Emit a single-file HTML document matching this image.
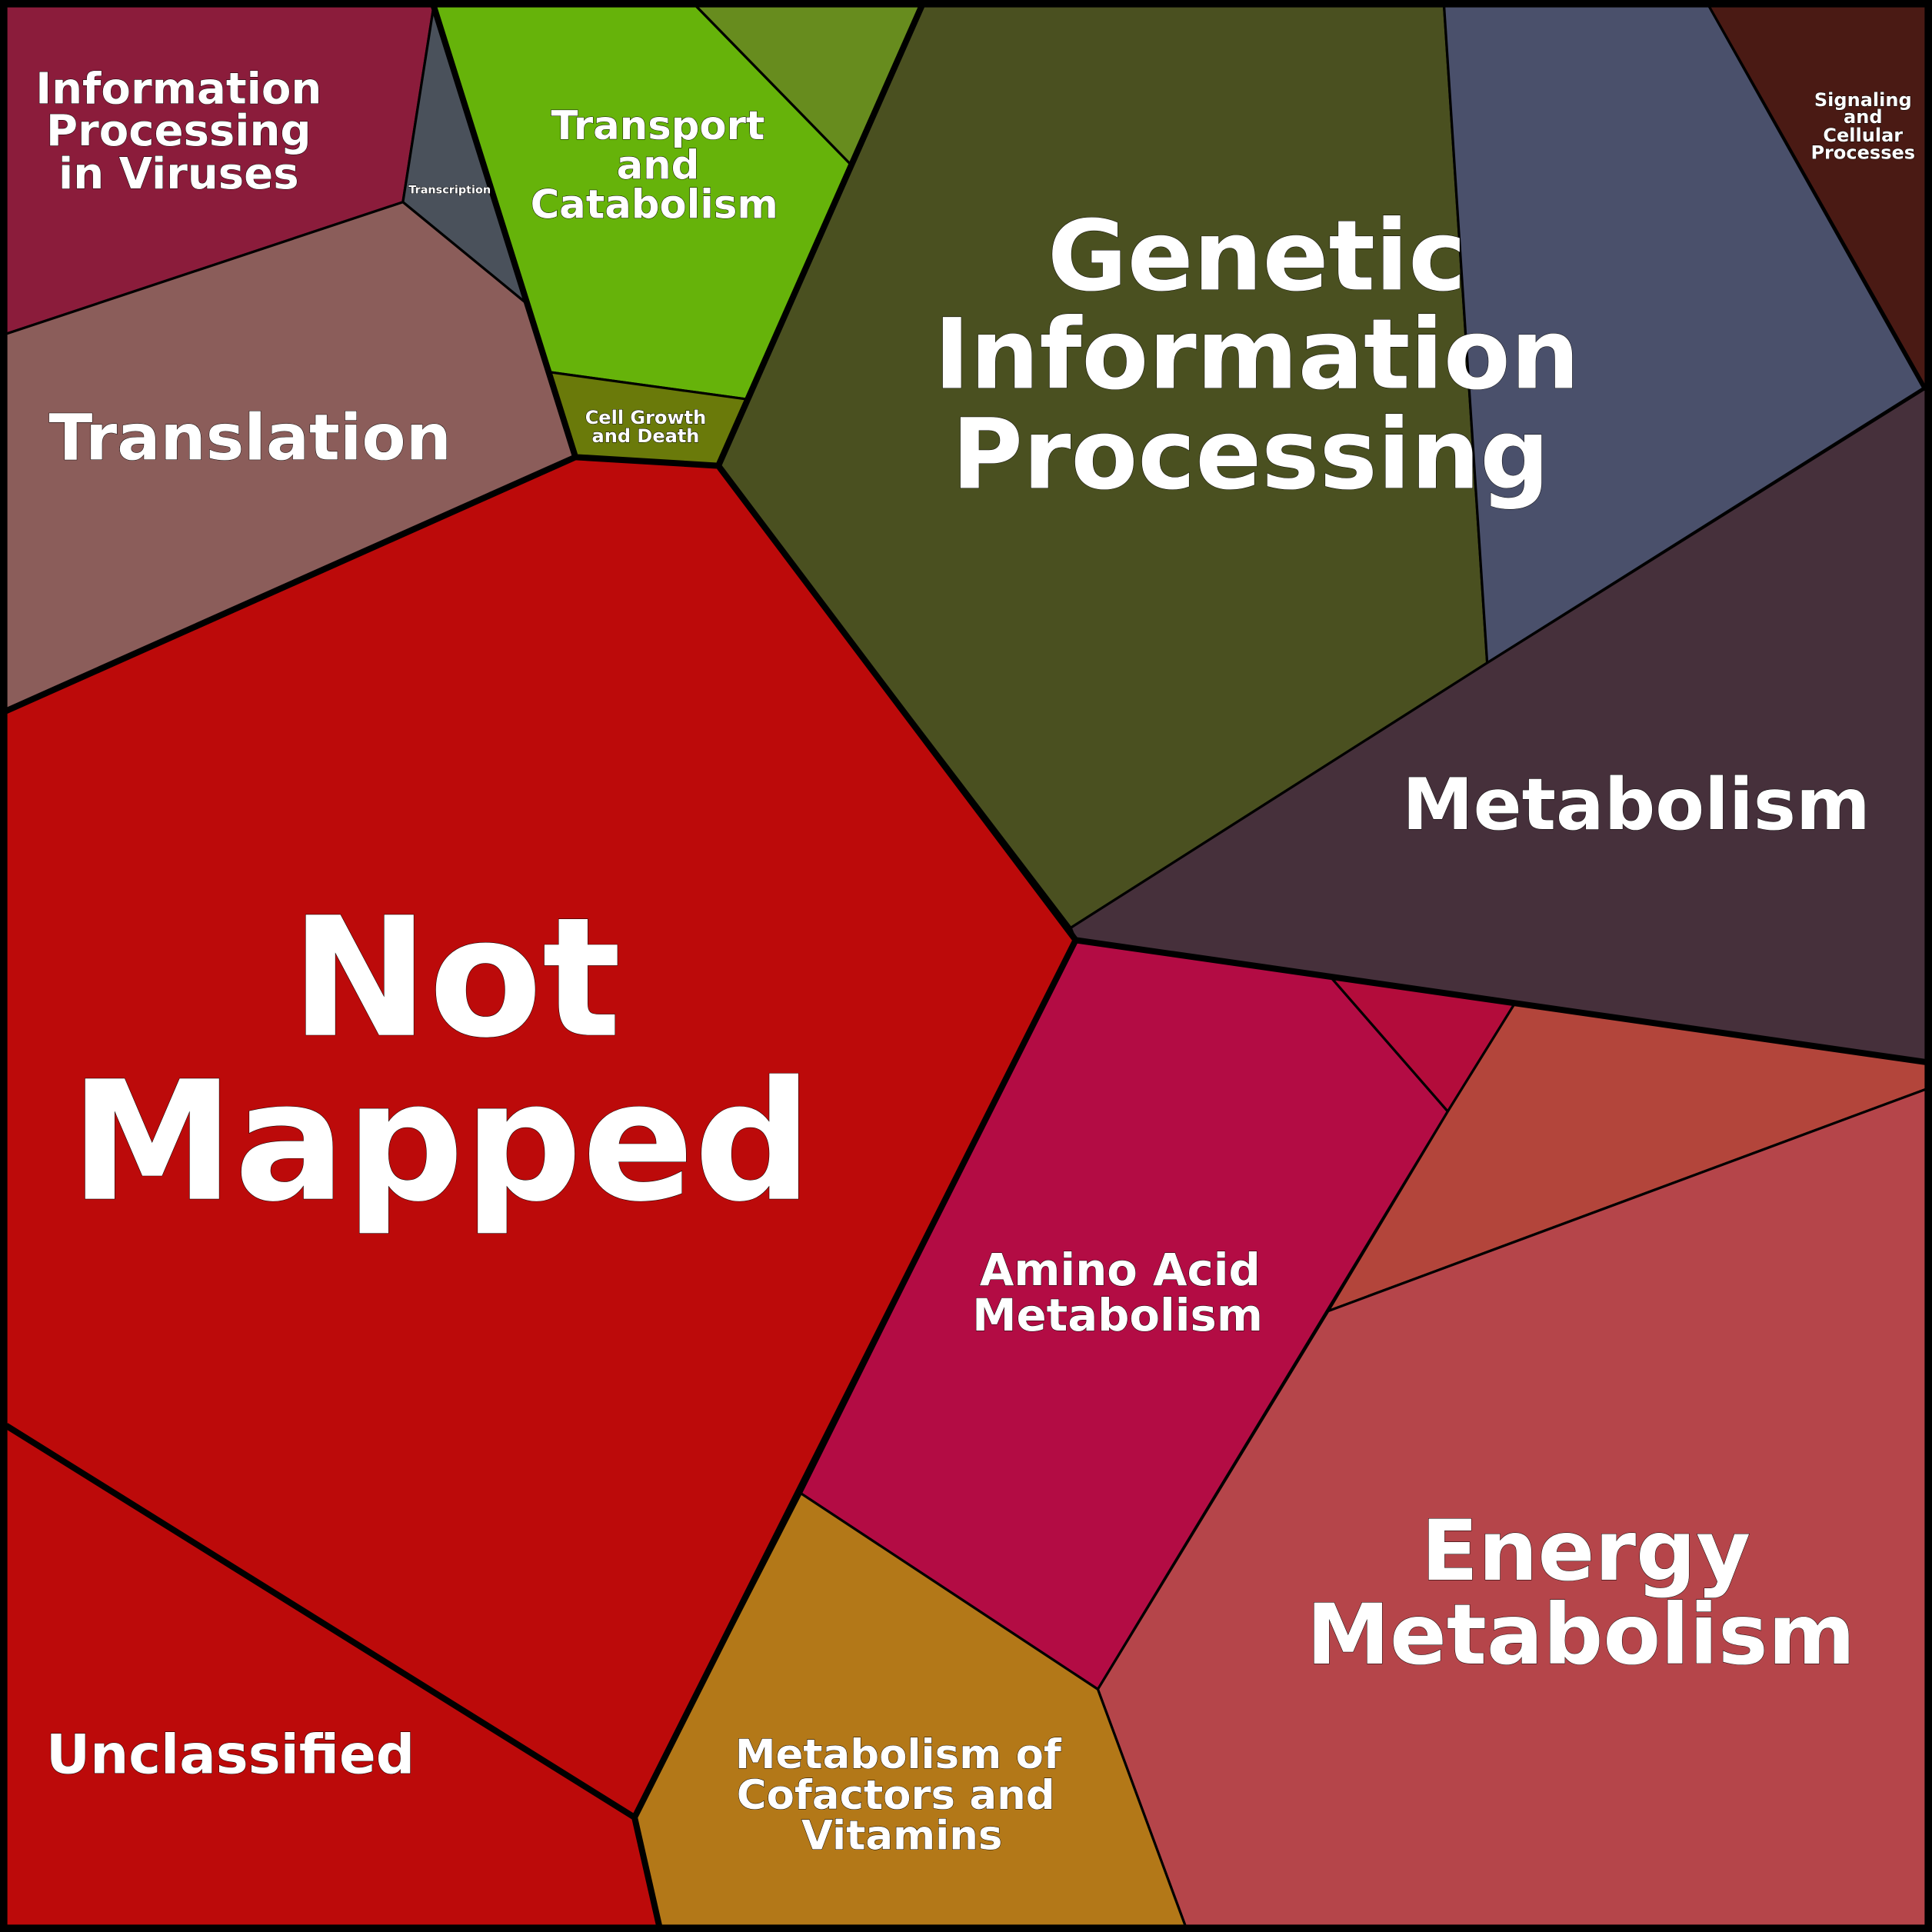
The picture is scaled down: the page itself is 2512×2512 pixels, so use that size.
<!DOCTYPE html>
<html><head><meta charset="utf-8"><style>
html,body{margin:0;padding:0;background:#000;}
svg{display:block;}
text{font-family:"DejaVu Sans","Liberation Sans",sans-serif;font-weight:bold;fill:#fff;text-anchor:middle;stroke:#000;stroke-width:0.6;paint-order:stroke;}
</style></head><body>
<svg width="2512" height="2512" viewBox="0 0 1568 1568" xmlns="http://www.w3.org/2000/svg">
<g stroke="#000" stroke-width="2" stroke-linejoin="round">
<polygon fill="#8b1c3b" points="5,5 352,5 327,164 5,271"/>
<polygon fill="#4a515b" points="352,5 427,246 327,164"/>
<polygon fill="#8b5d5a" points="5,271 327,164 427,246 467,371 5,577"/>
<polygon fill="#66b30a" points="352,5 565,5 690,133 606,324 446,302 427,246"/>
<polygon fill="#678c1e" points="565,5 748,5 690,133"/>
<polygon fill="#6a7a0a" points="446,302 606,324 583,378 467,371"/>
<polygon fill="#4a5020" points="748,5 1172,5 1207,538 869,753 583,378 606,324 690,133"/>
<polygon fill="#4a506b" points="1172,5 1387,5 1561,315 1207,538"/>
<polygon fill="#4a1a14" points="1387,5 1563,5 1563,315"/>
<polygon fill="#46303b" points="1207,538 1563,315 1563,862 873,763 869,753"/>
<polygon fill="#bc0a0a" points="5,577 467,371 583,378 873,763 650,1212 515,1475 5,1157"/>
<polygon fill="#bc0a0a" points="5,1157 515,1475 535,1563 5,1563"/>
<polygon fill="#b30c44" points="873,763 1080,793 1175,902 891,1371 650,1212"/>
<polygon fill="#b30c3b" points="1080,793 1229,815 1175,902"/>
<polygon fill="#b3453b" points="1229,815 1563,862 1563,884 1078,1064 1175,902"/>
<polygon fill="#b5454a" points="1078,1064 1563,884 1563,1563 962,1563 891,1371"/>
<polygon fill="#b37818" points="650,1212 891,1371 962,1563 535,1563 515,1475"/>
</g>
<g stroke="#000" stroke-width="5" fill="none" stroke-linejoin="round">
<polyline points="352,5 467,371 583,378 873,763 1563,862"/>
<polyline points="748,5 583,378"/>
<polyline points="5,577 467,371"/>
<polyline points="873,763 515,1475 535,1563"/>
<polyline points="5,1157 515,1475"/>
<rect x="3" y="3" width="1562" height="1562"/>
</g>
<text font-size="35" x="145" y="84">Information</text>
<text font-size="35" x="145" y="118">Processing</text>
<text font-size="35" x="145" y="153">in Viruses</text>
<text font-size="9" x="365" y="157" stroke-width="0.3">Transcription</text>
<text font-size="52" x="203" y="373">Translation</text>
<text font-size="32" x="534" y="113">Transport</text>
<text font-size="32" x="534" y="145">and</text>
<text font-size="32" x="531" y="177">Catabolism</text>
<text font-size="15" x="524" y="344" stroke-width="0.4">Cell Growth</text>
<text font-size="15" x="524" y="359" stroke-width="0.4">and Death</text>
<text font-size="79" x="1020" y="235">Genetic</text>
<text font-size="79" x="1020" y="315">Information</text>
<text font-size="79" x="1015" y="396">Processing</text>
<text font-size="15" x="1512" y="86" stroke-width="0.4">Signaling</text>
<text font-size="15" x="1512" y="100" stroke-width="0.4">and</text>
<text font-size="15" x="1512" y="115" stroke-width="0.4">Cellular</text>
<text font-size="15" x="1512" y="129" stroke-width="0.4">Processes</text>
<text font-size="58" x="1328" y="673">Metabolism</text>
<text font-size="134" x="370" y="840">Not</text>
<text font-size="134" x="358" y="973">Mapped</text>
<text font-size="36" x="909" y="1043">Amino Acid</text>
<text font-size="36" x="907" y="1080">Metabolism</text>
<text font-size="68" x="1287" y="1282">Energy</text>
<text font-size="68" x="1283" y="1350">Metabolism</text>
<text font-size="44" x="187" y="1439">Unclassified</text>
<text font-size="33" x="729" y="1435">Metabolism of</text>
<text font-size="33" x="727" y="1468">Cofactors and</text>
<text font-size="33" x="732" y="1501">Vitamins</text>
</svg>
</body></html>
